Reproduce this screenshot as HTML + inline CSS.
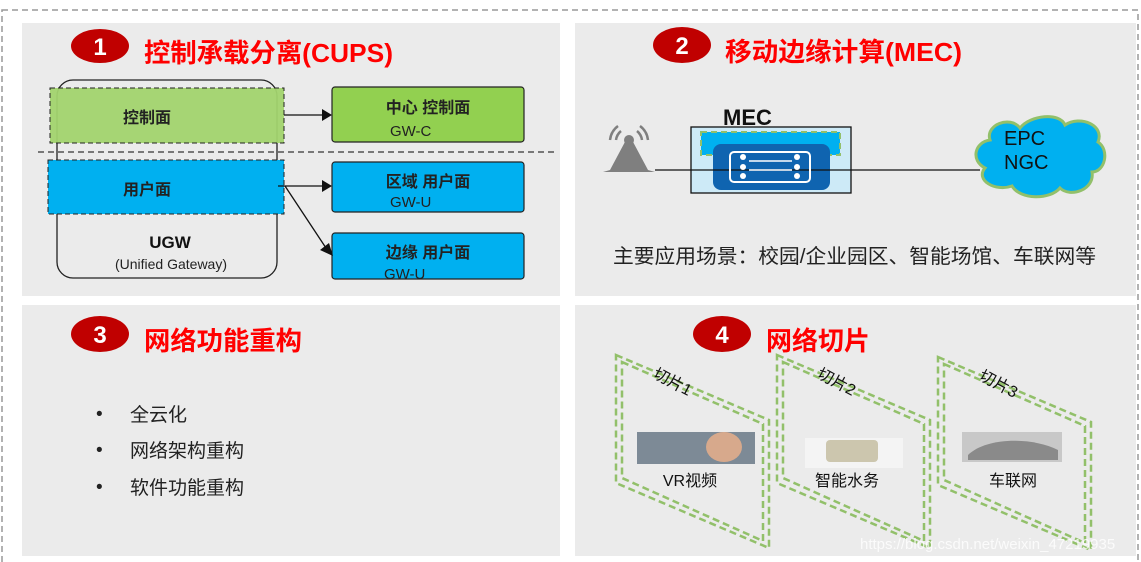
<!DOCTYPE html>
<html><head><meta charset="utf-8"><style>
html,body{margin:0;padding:0;background:#fff;}
svg{display:block;font-family:"Liberation Sans","Noto Sans CJK SC",sans-serif;}
</style></head><body>
<svg width="1141" height="562" viewBox="0 0 1141 562">
<rect x="2" y="10" width="1136" height="560" fill="none" stroke="#999" stroke-width="1.5" stroke-dasharray="6,4"/>
<rect x="22" y="23" width="538" height="273" fill="#ebebeb"/>
<rect x="575" y="23" width="561" height="273" fill="#ebebeb"/>
<rect x="22" y="305" width="538" height="251" fill="#ebebeb"/>
<rect x="575" y="305" width="561" height="251" fill="#ebebeb"/>

<!-- Panel 1 -->
<ellipse cx="100" cy="46" rx="29" ry="17" fill="#c00000"/>
<text x="100" y="55" font-size="24" font-weight="bold" fill="#fff" text-anchor="middle">1</text>
<text x="144" y="62" font-size="26" font-weight="bold" fill="#ff0000" textLength="249" lengthAdjust="spacingAndGlyphs">控制承载分离(CUPS)</text>
<rect x="57" y="80" width="220" height="198" rx="16" fill="none" stroke="#222" stroke-width="1.3"/>
<rect x="50" y="88" width="234" height="55" fill="#a2d46e" fill-opacity="0.95" stroke="#222" stroke-dasharray="5,3"/>
<rect x="48" y="160" width="236" height="54" fill="#00b0f0" stroke="#222" stroke-dasharray="5,3"/>
<line x1="38" y1="152" x2="555" y2="152" stroke="#333" stroke-dasharray="6,4" stroke-width="1.2"/>
<text x="147" y="123" font-size="16" font-weight="bold" fill="#222" text-anchor="middle">控制面</text>
<text x="147" y="195" font-size="16" font-weight="bold" fill="#222" text-anchor="middle">用户面</text>
<text x="170" y="248" font-size="17" font-weight="bold" fill="#111" text-anchor="middle">UGW</text>
<text x="171" y="269" font-size="14" fill="#222" text-anchor="middle">(Unified Gateway)</text>
<rect x="332" y="87" width="192" height="55" rx="3" fill="#92d050" stroke="#222" stroke-width="1.2"/>
<text x="428" y="113" font-size="16" font-weight="bold" fill="#222" text-anchor="middle">中心 控制面</text>
<text x="390" y="136" font-size="15" fill="#222">GW-C</text>
<rect x="332" y="162" width="192" height="50" rx="3" fill="#00b0f0" stroke="#222" stroke-width="1.2"/>
<text x="428" y="187" font-size="16" font-weight="bold" fill="#222" text-anchor="middle">区域 用户面</text>
<text x="390" y="207" font-size="15" fill="#222">GW-U</text>
<rect x="332" y="233" width="192" height="46" rx="3" fill="#00b0f0" stroke="#222" stroke-width="1.2"/>
<text x="428" y="258" font-size="16" font-weight="bold" fill="#222" text-anchor="middle">边缘 用户面</text>
<text x="384" y="279" font-size="15" fill="#222">GW-U</text>
<line x1="284" y1="115" x2="322" y2="115" stroke="#111" stroke-width="1.3"/>
<polygon points="332,115 322,109 322,121" fill="#111"/>
<line x1="278" y1="186" x2="322" y2="186" stroke="#111" stroke-width="1.3"/>
<polygon points="332,186 322,180 322,192" fill="#111"/>
<line x1="285" y1="186" x2="326" y2="248" stroke="#111" stroke-width="1.3"/>
<polygon points="333,256 320,250 329,243" fill="#111"/>

<!-- Panel 2 -->
<ellipse cx="682" cy="45" rx="29" ry="18" fill="#c00000"/>
<text x="682" y="54" font-size="24" font-weight="bold" fill="#fff" text-anchor="middle">2</text>
<text x="725" y="61" font-size="26" font-weight="bold" fill="#ff0000" textLength="237" lengthAdjust="spacingAndGlyphs">移动边缘计算(MEC)</text>
<g fill="#7f7f7f" stroke="#7f7f7f">
<polygon points="626,140 632,140 648,170 655,172 603,172 610,170" stroke="none"/>
<circle cx="629" cy="140" r="5" stroke="none"/>
<path d="M616,140 a14,14 0 0,1 5,-9 M642,140 a14,14 0 0,0 -5,-9 M610,140 a20,20 0 0,1 8,-14 M648,140 a20,20 0 0,0 -8,-14" stroke-width="2.5" fill="none"/>
</g>
<line x1="655" y1="170" x2="980" y2="170" stroke="#111" stroke-width="1.2"/>
<rect x="691" y="127" width="160" height="66" fill="#cdeaf7" stroke="#111" stroke-width="1.3"/>
<rect x="701" y="132" width="139" height="23" fill="#00b0f0" stroke="#92c06a" stroke-width="2" stroke-dasharray="6,4"/>
<rect x="713" y="144" width="117" height="46" rx="8" fill="#0f64b0"/>
<line x1="691" y1="170" x2="851" y2="170" stroke="#111" stroke-width="1.2"/>
<rect x="730" y="152" width="80" height="30" rx="4" fill="none" stroke="#fff" stroke-width="2"/>
<g fill="#fff"><circle cx="743" cy="157" r="3"/><circle cx="743" cy="167" r="3"/><circle cx="743" cy="176" r="3"/><circle cx="797" cy="157" r="3"/><circle cx="797" cy="167" r="3"/><circle cx="797" cy="176" r="3"/></g>
<line x1="749" y1="161" x2="792" y2="161" stroke="#fff" stroke-width="1.5"/>
<line x1="749" y1="170" x2="792" y2="170" stroke="#fff" stroke-width="1.5"/>
<text x="723" y="125" font-size="22" font-weight="bold" fill="#111">MEC</text>
<path d="M990,140 C985,125 1010,115 1020,128 C1030,115 1060,112 1065,125 C1080,115 1105,125 1098,142 C1110,150 1105,172 1092,172 C1095,190 1070,198 1060,188 C1050,200 1020,200 1012,186 C995,192 975,180 985,168 C970,160 975,142 990,140 Z" fill="#00b0f0" stroke="#92c06a" stroke-width="3"/>
<text x="1004" y="145" font-size="20" fill="#111">EPC</text>
<text x="1004" y="169" font-size="20" fill="#111">NGC</text>
<text x="613" y="263" font-size="20" fill="#222" textLength="483" lengthAdjust="spacingAndGlyphs">主要应用场景：校园/企业园区、智能场馆、车联网等</text>

<!-- Panel 3 -->
<ellipse cx="100" cy="334" rx="29" ry="18" fill="#c00000"/>
<text x="100" y="343" font-size="24" font-weight="bold" fill="#fff" text-anchor="middle">3</text>
<text x="144" y="350" font-size="26" font-weight="bold" fill="#ff0000" textLength="158" lengthAdjust="spacingAndGlyphs">网络功能重构</text>
<g font-size="19" fill="#222">
<text x="96" y="420">•</text><text x="130" y="421">全云化</text>
<text x="96" y="456">•</text><text x="130" y="457">网络架构重构</text>
<text x="96" y="493">•</text><text x="130" y="494">软件功能重构</text>
</g>

<!-- Panel 4 -->
<ellipse cx="722" cy="334" rx="29" ry="18" fill="#c00000"/>
<text x="722" y="343" font-size="24" font-weight="bold" fill="#fff" text-anchor="middle">4</text>
<text x="766" y="350" font-size="26" font-weight="bold" fill="#ff0000" textLength="104" lengthAdjust="spacingAndGlyphs">网络切片</text>
<g fill="none" stroke="#92c06a" stroke-width="2.5" stroke-dasharray="7,4">
<polygon points="616,355 769,420 769,548 616,483"/>
<polygon points="622,362 763,424 763,541 622,478"/>
<polygon points="777,355 930,420 930,548 777,483"/>
<polygon points="783,362 924,424 924,541 783,478"/>
<polygon points="938,357 1091,422 1091,550 938,485"/>
<polygon points="944,364 1085,426 1085,543 944,480"/>
</g>
<g font-size="16" fill="#111">
<text x="652" y="377" transform="rotate(28 652 377)">切片1</text>
<text x="816" y="377" transform="rotate(28 816 377)">切片2</text>
<text x="978" y="379" transform="rotate(28 978 379)">切片3</text>
</g>
<rect x="637" y="432" width="118" height="32" fill="#7d8a96"/>
<ellipse cx="724" cy="447" rx="18" ry="15" fill="#d7a98c"/>
<rect x="805" y="438" width="98" height="30" fill="#f4f4f4"/>
<rect x="826" y="440" width="52" height="22" rx="4" fill="#ccc6ae"/>
<rect x="962" y="432" width="100" height="30" fill="#c8c8c8"/>
<path d="M968,455 C985,438 1030,436 1058,450 L1058,460 L968,460Z" fill="#8a8a8a"/>
<g font-size="16" fill="#111" text-anchor="middle">
<text x="690" y="486">VR视频</text>
<text x="847" y="486">智能水务</text>
<text x="1013" y="486">车联网</text>
</g>
<text x="860" y="549" font-size="15" fill="#fff" fill-opacity="0.8">https://blog.csdn.net/weixin_47219935</text>
</svg>
</body></html>
